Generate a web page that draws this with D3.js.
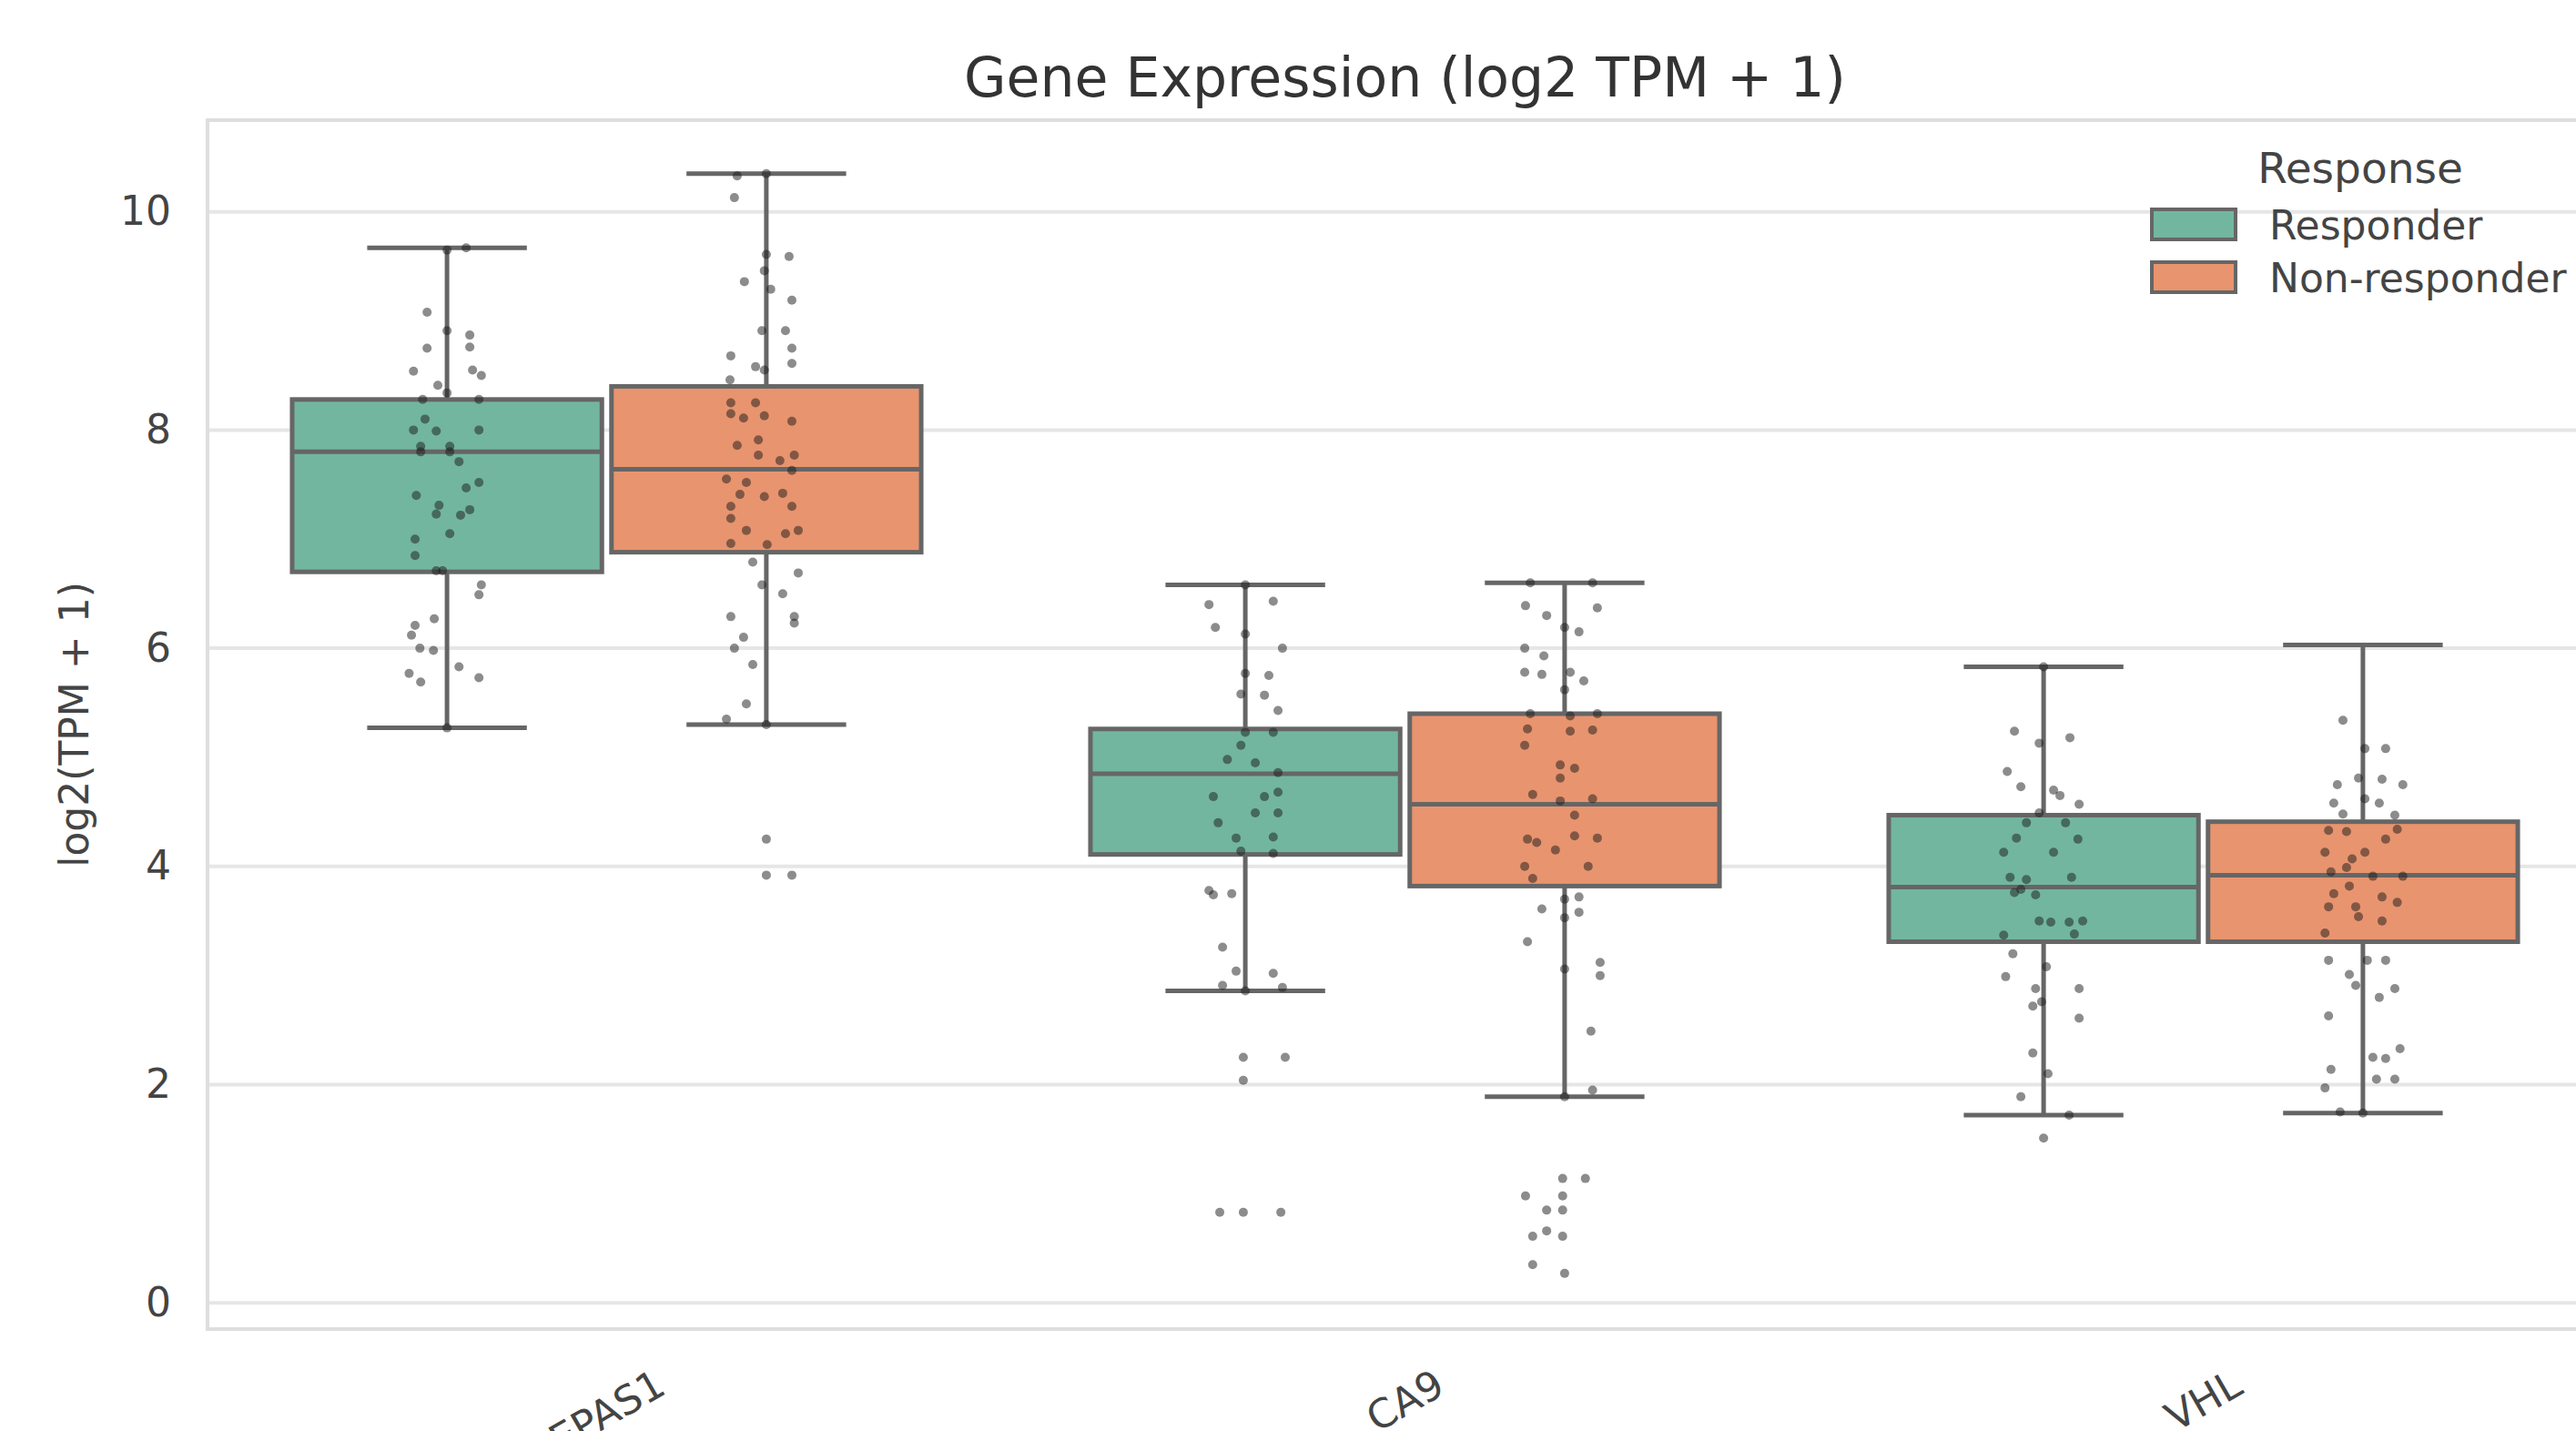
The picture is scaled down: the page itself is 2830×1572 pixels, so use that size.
<!DOCTYPE html>
<html>
<head>
<meta charset="utf-8">
<script src="https://cdn.jsdelivr.net/npm/d3@7"></script>
<style>
    html, body { margin: 0; padding: 0; background: #fff; }
    svg { display: block; font-family: 'DejaVu Sans', sans-serif; }
</style>
</head>
<body>
<svg id="chart" width="2830" height="1572"></svg>
<script>
// genes on the x axis, response groups as hue
var genes = ['EPAS1', 'CA9', 'VHL'];
var groups = ['Responder', 'Non-responder'];
var groupColors = ['#72b6a0', '#e8946f'];
var yTicks = [0, 2, 4, 6, 8, 10];

// box stats per gene: [whisker low, q1, median, q3, whisker high]
var statsResponder = [
    [5.27, 6.70, 7.80, 8.28, 9.67],
    [2.86, 4.11, 4.85, 5.26, 6.58],
    [1.72, 3.31, 3.81, 4.47, 5.83],
];
var statsNonResponder = [
    [5.30, 6.88, 7.64, 8.40, 10.35],
    [1.89, 3.82, 4.57, 5.40, 6.60],
    [1.74, 3.31, 3.92, 4.41, 6.03],
];

// strip points: [value, jitter in -1..1]
var epas1Responder = [
    [9.67, .48], [9.65, 0], [9.08, -.5], [8.91, 0], [8.87, .57], [8.75, -.5], [8.76, .57],
    [8.54, -.84], [8.55, .64], [8.50, .86], [8.41, -.23], [8.34, 0], [8.28, -.61], [8.28, .8],
    [8.10, -.55], [8.00, -.84], [7.99, -.27], [8.00, .8], [7.85, -.66], [7.85, .07], [7.80, -.66],
    [7.80, .07], [7.71, .3], [7.52, .8], [7.47, .48], [7.40, -.77], [7.31, -.2], [7.27, .57],
    [7.23, -.27], [7.22, .34], [7.05, .07], [7.00, -.8], [6.85, -.8], [6.71, -.27], [6.71, -.11],
    [6.58, .86], [6.49, .8], [6.27, -.32], [6.21, -.8], [6.12, -.89], [6.00, -.68], [5.98, -.34],
    [5.83, .3], [5.77, -.95], [5.69, -.66], [5.73, .8], [5.27, 0],
];
var epas1NonResponder = [
    [10.33, -.73], [10.35, 0], [10.13, -.8], [9.61, 0], [9.59, .57], [9.46, -.05], [9.36, -.55],
    [9.29, .11], [9.19, .64], [8.91, -.11], [8.91, .48], [8.75, .64], [8.68, -.89], [8.61, .64],
    [8.55, -.05], [8.58, -.27], [8.46, -.91], [8.25, -.89], [8.25, -.27], [8.15, -.89], [8.11, -.57],
    [8.13, -.05], [8.08, .64], [7.91, -.2], [7.86, -.73], [7.77, -.2], [7.77, .7], [7.72, .34],
    [7.63, .64], [7.55, -1], [7.52, -.5], [7.41, -.66], [7.39, -.05], [7.42, .41], [7.30, .64],
    [7.30, -.89], [7.19, -.89], [7.08, -.5], [7.05, .48], [7.08, .8], [6.96, -.89], [6.95, .02],
    [6.79, -.34], [6.69, .8], [6.58, -.11], [6.50, .41], [6.29, -.89], [6.29, .7], [6.23, .7],
    [6.10, -.57], [6.00, -.8], [5.85, -.34], [5.49, -.5], [5.35, -1], [5.30, 0],
    [4.25, 0], [3.92, 0], [3.92, .64],
];
var ca9Responder = [
    [6.58, 0], [6.40, -.91], [6.43, .7], [6.19, -.75], [6.13, 0], [6.00, .93], [5.77, 0],
    [5.75, .59], [5.58, -.11], [5.57, .48], [5.43, .82], [5.23, .7], [5.23, 0], [5.11, -.11],
    [4.98, -.45], [4.95, .25], [4.86, .82], [4.64, -.8], [4.64, .48], [4.68, .82], [4.49, .25],
    [4.49, .82], [4.40, -.68], [4.26, -.23], [4.27, .7], [4.12, .7], [4.14, -.11], [3.78, -.91],
    [3.74, -.8], [3.75, -.34], [3.26, -.57], [3.04, -.23], [3.02, .7], [2.91, -.57], [2.89, .93],
    [2.86, 0], [2.25, -.05], [2.25, 1], [2.04, -.05], [0.83, -.64], [0.83, -.05], [0.83, .89],
];
var ca9NonResponder = [
    [6.60, -.86], [6.60, .7], [6.39, -.98], [6.30, -.45], [6.37, .82], [6.19, 0], [6.15, .36],
    [6.00, -1], [5.93, -.52], [5.78, -1], [5.76, -.57], [5.78, .14], [5.70, .48], [5.62, 0],
    [5.40, -.86], [5.40, .82], [5.38, .14], [5.26, -.93], [5.24, .14], [5.25, .7], [5.11, -1],
    [4.93, -.11], [4.90, .25], [4.81, -.11], [4.66, -.8], [4.62, .7], [4.60, -.11], [4.47, .25],
    [4.26, .82], [4.25, -.93], [4.22, -.7], [4.28, .25], [4.15, -.23], [4.00, -1], [4.00, .59],
    [3.89, -.8], [3.70, 0], [3.72, .36], [3.61, -.57], [3.58, .36], [3.53, 0], [3.31, -.93],
    [3.06, 0], [3.12, .89], [3.00, .89], [2.49, .66], [1.95, .7], [1.89, 0],
    [1.14, -.05], [1.14, .52], [0.98, -.98], [0.98, -.05], [0.85, -.45], [0.85, -.05],
    [0.66, -.45], [0.61, -.8], [0.61, -.05], [0.35, -.8], [0.27, 0],
];
var vhlResponder = [
    [5.83, 0], [5.24, -.73], [5.13, -.11], [5.18, .66], [4.87, -.91], [4.73, -.57], [4.70, .25],
    [4.65, .41], [4.57, .89], [4.49, -.11], [4.40, -.43], [4.40, .55], [4.26, -.68], [4.25, .86],
    [4.13, -1], [4.13, .25], [3.90, -.84], [3.90, .7], [3.88, -.43], [3.79, -.57], [3.76, -.73],
    [3.74, -.2], [3.50, -.11], [3.49, .18], [3.50, .98], [3.49, .64], [3.37, -1], [3.38, .77],
    [3.20, -.77], [3.08, .07], [2.99, -.95], [2.88, -.2], [2.88, .89], [2.76, -.05], [2.72, -.27],
    [2.61, .89], [2.29, -.27], [2.10, .11], [1.89, -.57], [1.72, .64], [1.51, 0],
];
var vhlNonResponder = [
    [5.34, -.5], [5.08, .05], [5.08, .57], [4.81, -.11], [4.80, .48], [4.75, 1], [4.75, -.64],
    [4.58, -.73], [4.62, .05], [4.58, .41], [4.47, .8], [4.48, -.5], [4.33, -.86], [4.32, -.41],
    [4.34, .86], [4.25, .57], [4.13, -.95], [4.13, .05], [4.07, -.27], [3.99, -.41], [3.95, -.8],
    [3.91, .25], [3.91, 1], [3.75, -.73], [3.72, .48], [3.82, -.34], [3.63, -.86], [3.63, -.18],
    [3.67, .86], [3.54, -.11], [3.50, .48], [3.39, -.95], [3.14, -.86], [3.14, .11], [3.14, .57],
    [3.01, -.34], [2.91, -.18], [2.88, .8], [2.80, .41], [2.63, -.86], [2.33, .93], [2.25, .25],
    [2.24, .57], [2.14, -.8], [2.05, .34], [2.05, .8], [1.97, -.95], [1.75, -.57], [1.74, 0],
];

(function () {
    var W = 2830, H = 1572;
    var margin = {left: 228, top: 132, bottom: 112};
    var bandW = 877;  // axes run past the right edge of the figure
    var lineColor = '#666666';
    var gridColor = '#e6e6e6';

    var stats = [statsResponder, statsNonResponder];
    var points = [
        [epas1Responder, ca9Responder, vhlResponder],
        [epas1NonResponder, ca9NonResponder, vhlNonResponder],
    ];

    var svg = d3.select('#chart');

    var x = d3.scaleBand()
        .domain(genes)
        .range([margin.left, margin.left + bandW * genes.length])
        .padding(0);
    var hue = d3.scaleBand()
        .domain(groups)
        .range([-0.4 * x.bandwidth(), 0.4 * x.bandwidth()]);
    var y = d3.scaleLinear()
        .domain([-0.24, 10.84])
        .range([H - margin.bottom, margin.top]);

    var x0 = x.range()[0], x1 = x.range()[1];
    var boxW = hue.bandwidth() * 0.97;
    var capW = hue.bandwidth() * 0.5;
    var jitterW = 0.05 * x.bandwidth();

    // grid
    svg.append('g').selectAll('line').data(yTicks)
        .enter().append('line')
            .attr('x1', x0).attr('x2', x1)
            .attr('y1', d => y(d)).attr('y2', d => y(d))
            .attr('stroke', gridColor)
            .attr('stroke-width', 4);

    // spines
    svg.append('rect')
        .attr('x', x0).attr('y', y.range()[1])
        .attr('width', x1 - x0).attr('height', y.range()[0] - y.range()[1])
        .attr('fill', 'none')
        .attr('stroke', '#dedede')
        .attr('stroke-width', 4);

    // y axis ticks
    var yAxis = d3.axisLeft(y).tickValues(yTicks).tickSize(0).tickPadding(40);
    svg.append('g')
        .attr('transform', 'translate(' + x0 + ',0)')
        .call(yAxis)
        .call(g => g.select('.domain').remove())
        .selectAll('text')
            .attr('font-size', 44)
            .attr('font-family', 'DejaVu Sans')
            .attr('fill', '#444');

    // boxes
    groups.forEach(function (grp, gi) {
        var g = svg.append('g').attr('class', 'group-' + gi);
        genes.forEach(function (gene, ci) {
            var s = stats[gi][ci];
            var cx = x(gene) + x.bandwidth() / 2 + hue(grp) + hue.bandwidth() / 2;

            g.append('line')
                .attr('x1', cx).attr('x2', cx)
                .attr('y1', y(s[0])).attr('y2', y(s[4]))
                .attr('stroke', lineColor).attr('stroke-width', 5);
            [s[0], s[4]].forEach(function (v) {
                g.append('line')
                    .attr('x1', cx - capW / 2).attr('x2', cx + capW / 2)
                    .attr('y1', y(v)).attr('y2', y(v))
                    .attr('stroke', lineColor).attr('stroke-width', 5);
            });
            g.append('rect')
                .attr('x', cx - boxW / 2).attr('y', y(s[3]))
                .attr('width', boxW).attr('height', y(s[1]) - y(s[3]))
                .attr('fill', groupColors[gi])
                .attr('stroke', lineColor).attr('stroke-width', 5);
            g.append('line')
                .attr('x1', cx - boxW / 2).attr('x2', cx + boxW / 2)
                .attr('y1', y(s[2])).attr('y2', y(s[2]))
                .attr('stroke', lineColor).attr('stroke-width', 5);
        });
    });

    // strip points
    groups.forEach(function (grp, gi) {
        genes.forEach(function (gene, ci) {
            var cx = x(gene) + x.bandwidth() / 2 + hue(grp) + hue.bandwidth() / 2;
            svg.append('g').selectAll('circle').data(points[gi][ci])
                .enter().append('circle')
                    .attr('cx', d => cx + d[1] * jitterW)
                    .attr('cy', d => y(d[0]))
                    .attr('r', 5)
                    .attr('fill', '#1a1a1a')
                    .attr('opacity', 0.5);
        });
    });

    // x tick labels, rotated 30deg, bbox centred under the tick
    // (the figure is cropped, so the labels run off the bottom edge like the original)
    var fsz = 44, lineH = fsz * 1.17;
    var labelTop = y.range()[0] + 34;
    svg.append('g').selectAll('text').data(genes)
        .enter().append('text')
            .text(d => d)
            .attr('font-size', fsz)
            .attr('fill', '#444')
            .attr('text-anchor', 'middle')
            .attr('dominant-baseline', 'central')
            .attr('transform', function (d) {
                var w = this.getComputedTextLength();
                var bh = w * Math.sin(Math.PI / 6) + lineH * Math.cos(Math.PI / 6);
                var cx = x(d) + x.bandwidth() / 2;
                return 'translate(' + cx + ',' + (labelTop + bh / 2) + ') rotate(-30)';
            });

    // y label
    svg.append('text')
        .text('log2(TPM + 1)')
        .attr('font-size', 44)
        .attr('fill', '#444')
        .attr('text-anchor', 'middle')
        .attr('dominant-baseline', 'central')
        .attr('transform', 'translate(81,' + (y.range()[0] + y.range()[1]) / 2 + ') rotate(-90)');

    // title
    svg.append('text')
        .text('Gene Expression (log2 TPM + 1)')
        .attr('x', (x0 + x1) / 2)
        .attr('y', 106)
        .attr('font-size', 60)
        .attr('fill', '#333')
        .attr('text-anchor', 'middle');

    // legend
    var legend = svg.append('g').attr('transform', 'translate(2364,0)');
    legend.append('text')
        .text('Response')
        .attr('x', 229).attr('y', 184)
        .attr('font-size', 47)
        .attr('fill', '#444')
        .attr('text-anchor', 'middle')
        .attr('dominant-baseline', 'central');
    groups.forEach(function (grp, gi) {
        var ly = 230 + gi * 58;
        legend.append('rect')
            .attr('x', 0).attr('y', ly)
            .attr('width', 92).attr('height', 33)
            .attr('fill', groupColors[gi])
            .attr('stroke', lineColor).attr('stroke-width', 4);
        legend.append('text')
            .text(grp)
            .attr('x', 129).attr('y', ly + 17)
            .attr('font-size', 44)
            .attr('fill', '#444')
            .attr('dominant-baseline', 'central');
    });
}());
</script>
</body>
</html>
